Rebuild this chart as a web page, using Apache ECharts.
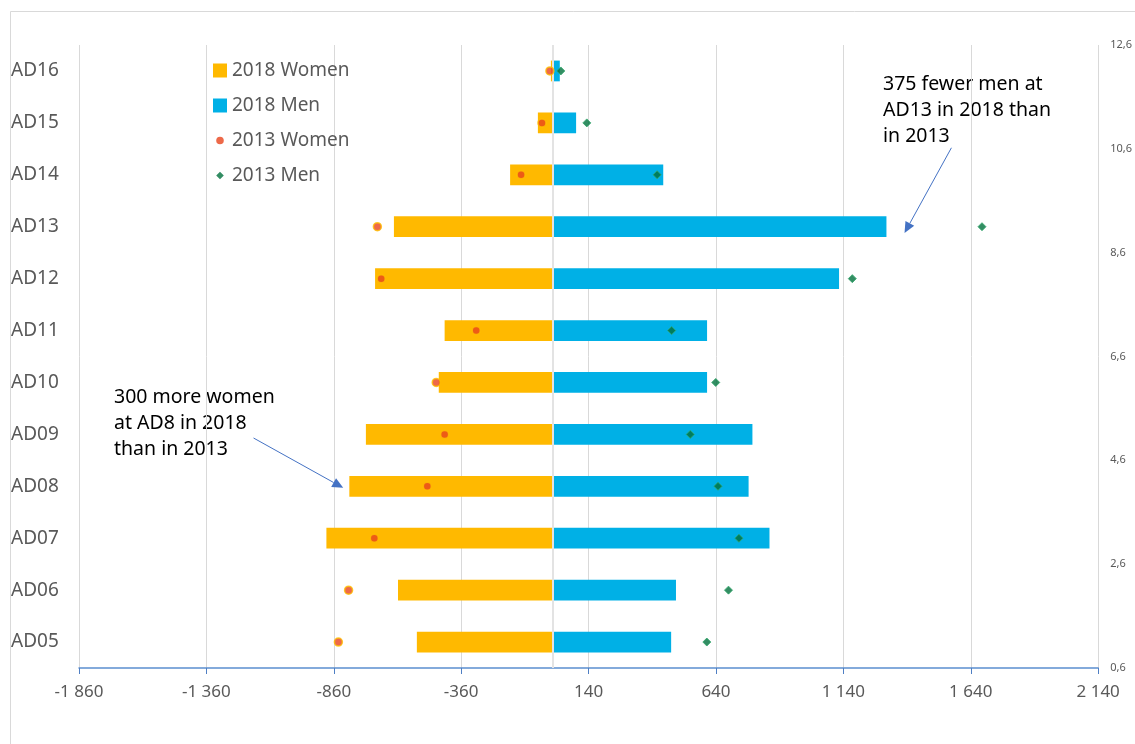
<!DOCTYPE html>
<html>
<head>
<meta charset="utf-8">
<script src="https://cdn.jsdelivr.net/npm/echarts@6/dist/echarts.min.js"></script>
<style>
html,body{margin:0;padding:0;background:#fff;overflow:hidden;}
#chart{width:1135px;height:744px;}
</style>
</head>
<body>
<div id="chart"></div>
<script>
const categories = ['AD05','AD06','AD07','AD08','AD09','AD10','AD11','AD12','AD13','AD14','AD15','AD16'];
const women2018 = [-534, -608, -889, -799, -734, -448, -425, -698, -624, -168, -59, -8];
const men2018   = [464, 483, 850, 768, 783, 605, 605, 1123, 1309, 433, 91, 27];
const women2013 = [-842, -802, -701, -493, -425, -458, -301, -674, -689, -125, -43, -12];
const men2013   = [604, 689, 730, 648, 539, 639, 466, 1175, 1684, 409, 133, 31];
const xTicks = { min: -1860, max: 2140, interval: 500 };
const rightTicks = { min: 0.6, max: 12.6, interval: 2 };

const FONT = 'Noto Sans';
const GRAY = '#595959';

function fmtThousands(v){
  const s = Math.abs(Math.round(v)).toString().replace(/\B(?=(\d{3})+(?!\d))/g, ' ');
  return (v < 0 ? '-' : '') + s;
}

// legend icons with padding so the marker looks small inside a 14x14 box
const dotIcon = 'path://M0,0L0.001,0M14,14L14.001,14M7,3.2A3.8,3.8 0 1,1 7,10.8A3.8,3.8 0 1,1 7,3.2Z';
const diamondIcon = 'path://M0,0L0.001,0M14,14L14.001,14M7,3.2L10.8,7L7,10.8L3.2,7Z';

const chart = echarts.init(document.getElementById('chart'), null, {renderer:'canvas'});
const option = {
  backgroundColor: '#fff',
  animation: false,
  textStyle: { fontFamily: FONT },
  grid: { left: 79, right: 32, top: 45, bottom: 76, containLabel: false },
  legend: {
    orient: 'vertical',
    left: 208, top: 56,
    itemGap: 16,
    itemWidth: 14, itemHeight: 14,
    textStyle: { color: GRAY, fontSize: 19, fontFamily: FONT },
    data: [
      { name: '2018 Women', icon: 'path://M1,1L13,1L13,13L1,13Z' },
      { name: '2018 Men', icon: 'path://M1,1L13,1L13,13L1,13Z' },
      { name: '2013 Women', icon: dotIcon, itemStyle:{ color:'#E8431C', borderWidth:0 } },
      { name: '2013 Men', icon: diamondIcon, itemStyle:{ color:'#00703C', borderWidth:0 } }
    ]
  },
  xAxis: {
    type: 'value',
    min: xTicks.min, max: xTicks.max, interval: xTicks.interval,
    axisLine: { show: true, onZero: false, lineStyle: { color: '#5B8FD0', width: 1.5 } },
    axisTick: { show: true, length: 6, lineStyle: { color: '#4F7FC4' } },
    axisLabel: { color: GRAY, fontSize: 17, margin: 16, fontFamily: FONT, formatter: fmtThousands },
    splitLine: { show: true, lineStyle: { color: '#d9d9d9', width: 1 } }
  },
  yAxis: [
    {
      type: 'category',
      data: categories,
      axisLine: { show: false },
      axisTick: { show: false },
      axisLabel: { color: GRAY, fontSize: 19, align: 'left', margin: 68, fontFamily: FONT },
      splitLine: { show: false }
    },
    {
      type: 'value',
      position: 'right',
      min: rightTicks.min, max: rightTicks.max, interval: rightTicks.interval,
      axisLine: { show: false },
      axisTick: { show: false },
      splitLine: { show: false },
      axisLabel: { color: GRAY, fontSize: 11, margin: 12, align: 'left', fontFamily: FONT,
        formatter: v => v.toFixed(1).replace('.', ',') }
    }
  ],
  series: [
    {
      name: '2018 Women', type: 'bar', stack: 'pop', barWidth: '40%',
      itemStyle: { color: '#FFB900' },
      data: women2018
    },
    {
      name: '2018 Men', type: 'bar', stack: 'pop', barWidth: '40%',
      itemStyle: { color: '#00B0E6' },
      data: men2018,
      markLine: {
        silent: true, symbol: 'none', z: 10,
        label: { show: false },
        lineStyle: { color: '#e3e3e3', width: 2, type: 'solid' },
        data: [{ xAxis: 0 }]
      }
    },
    {
      name: '2013 Women', type: 'scatter', symbol: 'circle', symbolSize: 8, z: 20,
      itemStyle: { color: '#E8431C', borderColor: '#FFC000', borderWidth: 1.5 },
      data: women2013.map((v, i) => [v, categories[i]])
    },
    {
      name: '2013 Men', type: 'scatter', symbol: 'diamond', symbolSize: 8, z: 20,
      itemStyle: { color: '#00703C', borderColor: '#2FA66A', borderWidth: 1 },
      data: men2013.map((v, i) => [v, categories[i]])
    }
  ],
  graphic: [
    { type: 'rect', shape: { x: 10.5, y: 11.5, width: 1300, height: 900 },
      style: { fill: 'none', stroke: '#d9d9d9', lineWidth: 1 }, silent: true, z: -10 },
    { type: 'text', left: 883, top: 71,
      style: { text: '375 fewer men at\nAD13 in 2018 than\nin 2013', fill: '#000', font: '19.5px "Noto Sans"', lineHeight: 26 } },
    { type: 'text', left: 114, top: 384,
      style: { text: '300 more women\nat AD8 in 2018\nthan in 2013', fill: '#000', font: '19.5px "Noto Sans"', lineHeight: 26 } }
  ]
};
chart.setOption(option);

// annotation arrows, anchored in data space
function arrow(x1, y1, x2, y2){
  const a = chart.convertToPixel({xAxisIndex:0, yAxisIndex:1}, [x1, y1]);
  const b = chart.convertToPixel({xAxisIndex:0, yAxisIndex:1}, [x2, y2]);
  const ang = Math.atan2(b[1]-a[1], b[0]-a[0]);
  const L = 11, W = 5;
  const bx = b[0] - L*Math.cos(ang), by = b[1] - L*Math.sin(ang);
  const p1 = [bx + W*Math.sin(ang), by - W*Math.cos(ang)];
  const p2 = [bx - W*Math.sin(ang), by + W*Math.cos(ang)];
  return [
    { type: 'line', shape: { x1: a[0], y1: a[1], x2: bx, y2: by }, style: { stroke: '#4472C4', lineWidth: 1 }, z: 30 },
    { type: 'polygon', shape: { points: [b, p1, p2] }, style: { fill: '#4472C4' }, z: 30 }
  ];
}
const extra = [].concat(
  arrow(1564, 10.62, 1380, 8.98),
  arrow(-1175, 5.03, -823, 4.07)
);
chart.setOption({ graphic: option.graphic.concat(extra) });
</script>
</body>
</html>
